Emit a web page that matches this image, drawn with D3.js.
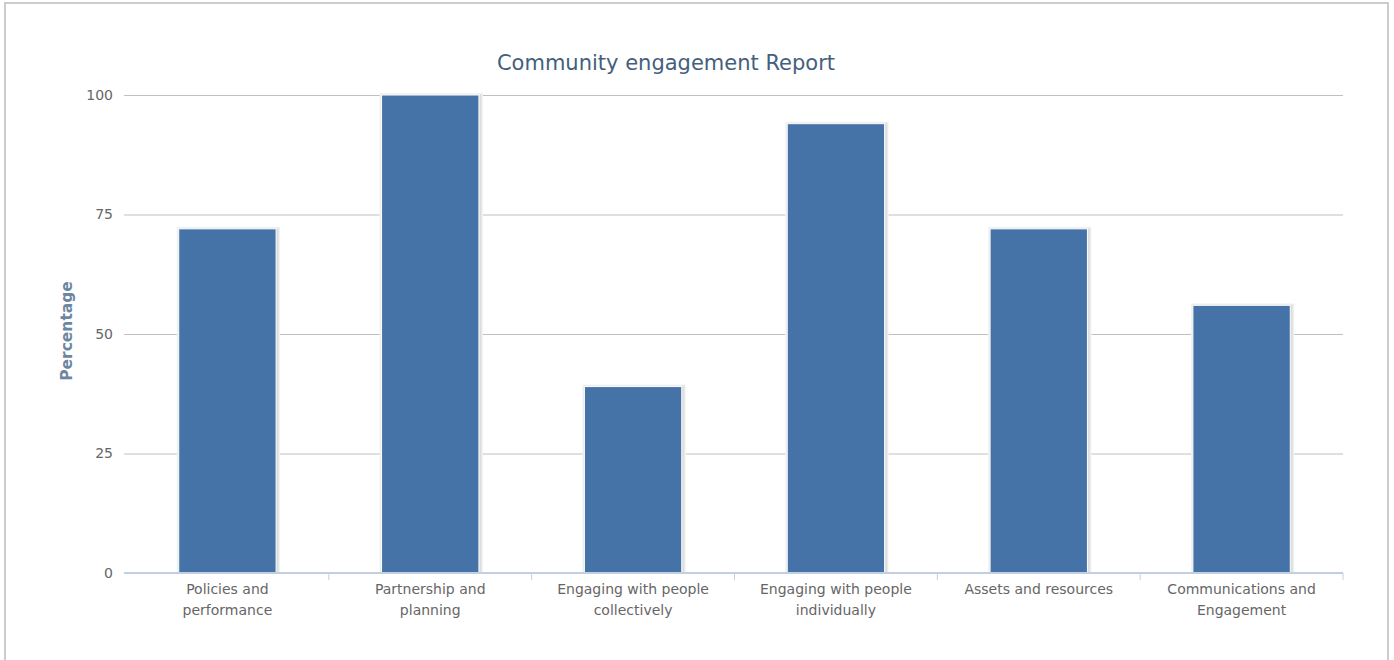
<!DOCTYPE html>
<html>
<head>
<meta charset="utf-8">
<script src="https://cdn.jsdelivr.net/npm/d3@7"></script>
<style>
  html, body { margin: 0; padding: 0; background: #fff; }
  svg { display: block; }
</style>
</head>
<body>
<svg id="chart" width="1394" height="660"></svg>
<script>
// Category labels (each drawn on two lines)
const categories = [
  "Policies and performance",
  "Partnership and planning",
  "Engaging with people collectively",
  "Engaging with people individually",
  "Assets and resources",
  "Communications and Engagement"
];
const labelLines = [
  ["Policies and", "performance"],
  ["Partnership and", "planning"],
  ["Engaging with people", "collectively"],
  ["Engaging with people", "individually"],
  ["Assets and resources"],
  ["Communications and", "Engagement"]
];
// Percentage per category
const values = [72, 100, 39, 94, 72, 56];
const yTicks = [0, 25, 50, 75, 100];

const svg = d3.select("#chart");
const font = "'DejaVu Sans', Verdana, sans-serif";

// outer frame
svg.append("rect")
  .attr("x", 5).attr("y", 3)
  .attr("width", 1383).attr("height", 680)
  .attr("fill", "#fff").attr("stroke", "#cccccc").attr("stroke-width", 2);

const plot = { left: 126, right: 1343, top: 95, bottom: 573 };

const x = d3.scaleBand().domain(categories).range([plot.left, plot.right]).padding(0);
const y = d3.scaleLinear().domain([0, 100]).range([plot.bottom, plot.top]);

// grid lines
svg.append("g")
  .selectAll("line")
  .data(yTicks.filter(d => d > 0))
  .join("line")
  .attr("x1", plot.left - 2).attr("x2", plot.right)
  .attr("y1", d => y(d) + 0.5).attr("y2", d => y(d) + 0.5)
  .attr("stroke", "#c0c0c0").attr("stroke-width", 1);

// y axis labels
const yAxis = d3.axisLeft(y).tickValues(yTicks).tickSize(0).tickPadding(11);
const gy = svg.append("g").attr("transform", `translate(${plot.left - 2},0)`).call(yAxis);
gy.select(".domain").remove();
gy.selectAll("text")
  .attr("font-family", font).attr("font-size", 14).attr("fill", "#666666");

// bars
const barW = x.bandwidth() * 0.48;
const bars = svg.append("g");
values.forEach((v, i) => {
  const cx = x(categories[i]) + x.bandwidth() / 2;
  const bx = cx - barW / 2;
  const by = y(v);
  const bh = y(0) - y(v);
  // soft shadow halo
  [[3, "#f3f3f3"], [2, "#e6e6e6"], [1, "#dcdcdc"]].forEach(([o, c]) => {
    bars.append("rect")
      .attr("x", bx - o + 1).attr("y", by - o + 1)
      .attr("width", barW + 2 * o).attr("height", bh + o)
      .attr("fill", c);
  });
  bars.append("rect")
    .attr("x", bx).attr("y", by)
    .attr("width", barW).attr("height", bh)
    .attr("fill", "#4572A7")
    .attr("stroke", "#ffffff").attr("stroke-width", 1);
});

// x axis line + boundary ticks
svg.append("line")
  .attr("x1", plot.left - 2).attr("x2", plot.right)
  .attr("y1", plot.bottom).attr("y2", plot.bottom)
  .attr("stroke", "#C0D0E0").attr("stroke-width", 2);
const bounds = categories.slice(1).map(c => x(c)).concat([plot.right]);
svg.append("g").selectAll("line")
  .data(bounds)
  .join("line")
  .attr("x1", d => d).attr("x2", d => d)
  .attr("y1", plot.bottom).attr("y2", plot.bottom + 7)
  .attr("stroke", "#C0D0E0").attr("stroke-width", 1);

// x labels
const xl = svg.append("g");
categories.forEach((c, i) => {
  const cx = x(c) + x.bandwidth() / 2;
  const t = xl.append("text")
    .attr("text-anchor", "middle")
    .attr("font-family", font).attr("font-size", 14).attr("fill", "#666666");
  labelLines[i].forEach((ln, j) => {
    t.append("tspan").attr("x", cx).attr("y", 594 + j * 21).text(ln);
  });
});

// title
svg.append("text")
  .attr("x", 666).attr("y", 70)
  .attr("text-anchor", "middle")
  .attr("font-family", font).attr("font-size", 21)
  .attr("fill", "#445F7C")
  .text("Community engagement Report");

// y axis title
svg.append("text")
  .attr("transform", `translate(72,${(plot.top + plot.bottom) / 2 - 3}) rotate(-90)`)
  .attr("text-anchor", "middle")
  .attr("font-family", font).attr("font-size", 15.5).attr("font-weight", "bold")
  .attr("fill", "#6D869F")
  .text("Percentage");
</script>
</body>
</html>
